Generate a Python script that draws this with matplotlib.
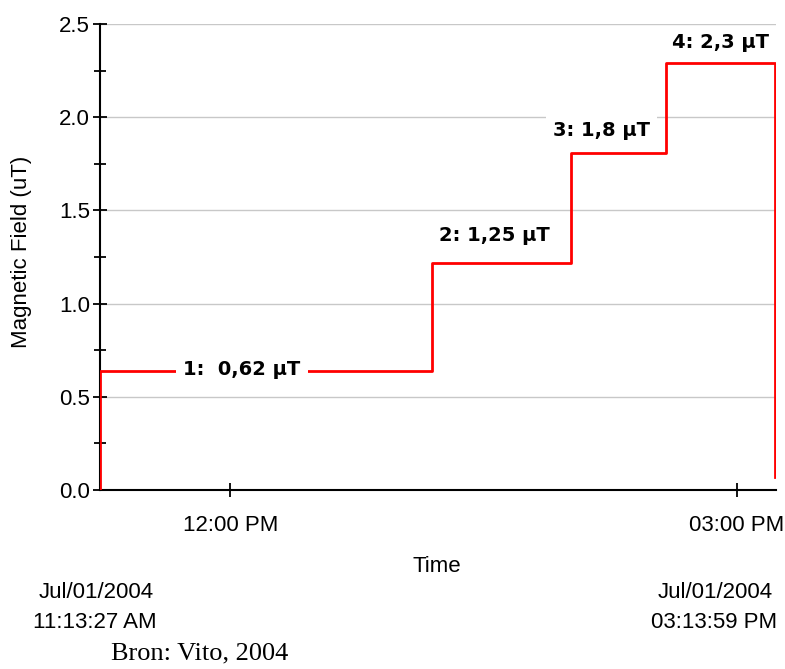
import datetime as dt
import matplotlib
matplotlib.use('Agg')
import matplotlib.pyplot as plt
import matplotlib.dates as mdates
from matplotlib.ticker import MultipleLocator

# step data: (time, field in uT)
step_times = ['11:13:27', '11:13:30', '13:11:50', '14:01:10', '14:35:00', '15:13:40', '15:13:45']
step_values = [0.0, 0.64, 1.22, 1.81, 2.29, 2.29, 0.07]

labels = ['1:  0,62 \u00b5T', '2: 1,25 \u00b5T', '3: 1,8 \u00b5T', '4: 2,3 \u00b5T']
label_times = ['12:04:07', '13:33:43', '14:11:46', '14:54:25']
label_values = [0.645, 1.368, 1.931, 2.403]

t_start = '11:13:27'
t_end = '15:13:59'
tick_times = ['12:00:00', '15:00:00']
tick_labels = ['12:00 PM', '03:00 PM']


def to_dt(s):
    return dt.datetime.strptime('2004-07-01 ' + s, '%Y-%m-%d %H:%M:%S')


plt.rcParams['font.family'] = ['Liberation Sans', 'DejaVu Sans']

fig = plt.figure(figsize=(7.85, 6.69), dpi=100)
ax = fig.add_axes([99.5 / 785, 1 - 490 / 669, (776 - 99.5) / 785, 466 / 669])

x = [to_dt(t) for t in step_times]
# hold each value until the next time
ax.step(x, step_values, where='post', color='#ff0000', lw=2, zorder=3)

for lab, t, v in zip(labels, label_times, label_values):
    ax.text(to_dt(t), v, lab, fontsize=14, fontweight='bold', ha='center', va='center',
            family='DejaVu Sans',
            bbox=dict(facecolor='white', edgecolor='none', pad=5), zorder=4)

ax.set_xlim(to_dt(t_start), to_dt(t_end))
ax.set_ylim(0, 2.5)
ax.yaxis.set_major_locator(MultipleLocator(0.5))
ax.yaxis.set_minor_locator(MultipleLocator(0.25))
ax.yaxis.set_major_formatter(plt.FormatStrFormatter('%.1f'))
ax.set_xticks([mdates.date2num(to_dt(t)) for t in tick_times])
ax.set_xticklabels(tick_labels)

ax.grid(axis='y', color='#c8c8c8', lw=1)
ax.set_axisbelow(True)
for s in ['top', 'right']:
    ax.spines[s].set_visible(False)
ax.spines['left'].set_linewidth(1.5)
ax.spines['bottom'].set_linewidth(1.5)
ax.tick_params(axis='both', which='major', direction='inout', length=10, width=1.3, labelsize=16)
ax.tick_params(axis='y', which='minor', direction='inout', length=8, width=1.3)
ax.tick_params(axis='x', pad=13)
ax.tick_params(axis='y', pad=2)

# y label placed by hand, like the original export
fig.text(22 / 785, 1 - 252 / 669, 'Magnetic Field (uT)', fontsize=16, rotation=90,
         ha='center', va='center')
fig.text(437 / 785, 1 - 566 / 669, 'Time', fontsize=16, ha='center', va='center')
fig.text(96 / 785, 1 - 592 / 669, 'Jul/01/2004', fontsize=16, ha='center', va='center')
fig.text(95 / 785, 1 - 623 / 669, '11:13:27 AM', fontsize=16, ha='center', va='center')
fig.text(715 / 785, 1 - 592 / 669, 'Jul/01/2004', fontsize=16, ha='center', va='center')
fig.text(714 / 785, 1 - 623 / 669, '03:13:59 PM', fontsize=16, ha='center', va='center')
fig.text(111 / 785, 1 - 653 / 669, 'Bron: Vito, 2004', fontsize=19, ha='left', va='center',
         family='Liberation Serif')

fig.savefig('out.png', dpi=100)
